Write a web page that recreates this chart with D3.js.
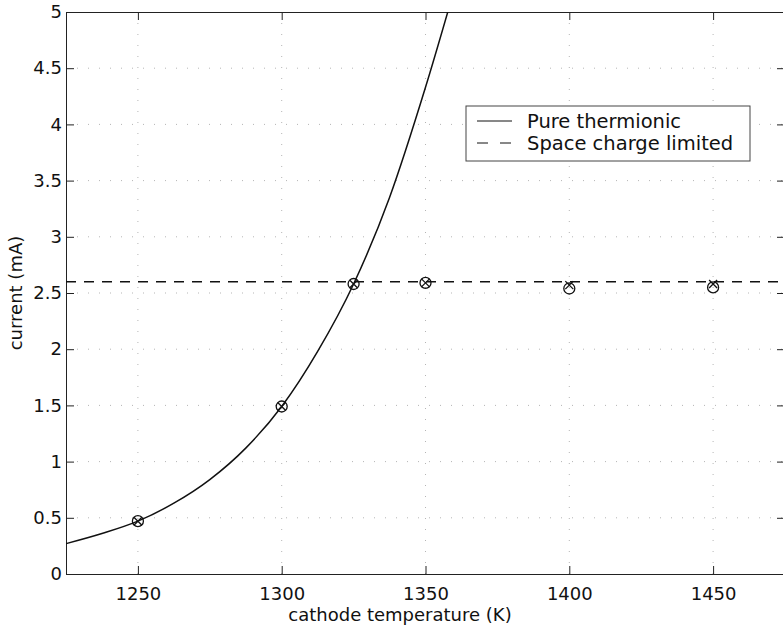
<!DOCTYPE html>
<html>
  <head>
  <title>Cathode current</title>
  </head>
  <body>
    <style>
        body, html {
          margin: 0;
          padding: 0;
          background: #fff;
        }
        text {
          font-family: "DejaVu Sans", sans-serif;
          fill: #111;
        }
      </style>

  <svg id="svg" width="783" height="630"></svg>

  <script src="https://d3js.org/d3.v7.min.js"></script>
  <script>
    // curve (pure thermionic emission)
    const curveTemps = [1225, 1237.5, 1250, 1262.5, 1275, 1287.5, 1300, 1312.5, 1325, 1337.5, 1350, 1360]
    const curveCurrents = [0.27, 0.36, 0.47, 0.63, 0.84, 1.12, 1.49, 1.98, 2.58, 3.35, 4.33, 5.2]

    // measured points, two marker sets ('o' and 'x')
    const measTemps = [1250, 1300, 1325, 1350, 1400, 1450]
    const circleCurrents = [0.47, 1.49, 2.58, 2.59, 2.54, 2.55]
    const crossCurrents = [0.47, 1.49, 2.58, 2.59, 2.57, 2.58]

    const spaceChargeLimit = 2.6

    const xTicks = [1250, 1300, 1350, 1400, 1450]
    const yTicks = [0, 0.5, 1, 1.5, 2, 2.5, 3, 3.5, 4, 4.5, 5]
    const legendLabels = ['Pure thermionic', 'Space charge limited']

    const plotLeft = 66
    const plotRight = 785   // the right axis sits just past the picture edge
    const plotTop = 12
    const plotBottom = 574

    const xscale = d3.scaleLinear()
        .domain([1225, 1475])
        .range([plotLeft, plotRight])
    const yscale = d3.scaleLinear()
        .domain([0, 5])
        .range([plotBottom, plotTop])

    const svg = d3.select('#svg')

    svg.append('defs')
        .append('clipPath')
        .attr('id', 'plot-clip')
        .append('rect')
        .attr('x', plotLeft)
        .attr('y', plotTop)
        .attr('width', plotRight - plotLeft)
        .attr('height', plotBottom - plotTop)

    // dotted grid (very faint on the scan)
    const grid = svg.append('g')
        .attr('stroke', '#b5b5b5')
        .attr('stroke-width', 1)
        .attr('stroke-dasharray', '1,10')
    grid.selectAll('line.gx')
        .data(xTicks)
        .join('line')
        .attr('class', 'gx')
        .attr('x1', d => xscale(d))
        .attr('x2', d => xscale(d))
        .attr('y1', plotTop)
        .attr('y2', plotBottom)
    grid.selectAll('line.gy')
        .data(yTicks.slice(1, -1))
        .join('line')
        .attr('class', 'gy')
        .attr('x1', plotLeft)
        .attr('x2', plotRight)
        .attr('y1', d => yscale(d))
        .attr('y2', d => yscale(d))

    // axes, ticks pointing inward like matlab
    const bottomAxis = d3.axisBottom(xscale)
        .tickValues(xTicks)
        .tickSizeInner(-8)
        .tickSizeOuter(0)
        .tickPadding(13)
        .tickFormat(d3.format('d'))
    const leftAxis = d3.axisLeft(yscale)
        .tickValues(yTicks)
        .tickSizeInner(-8)
        .tickSizeOuter(0)
        .tickPadding(4)
        .tickFormat(d => String(d))
    const topAxis = d3.axisTop(xscale)
        .tickValues(xTicks)
        .tickSizeInner(-8)
        .tickSizeOuter(0)
        .tickFormat('')
    const rightAxis = d3.axisRight(yscale)
        .tickValues(yTicks)
        .tickSizeInner(-8)
        .tickSizeOuter(0)
        .tickFormat('')

    const gx = svg.append('g')
        .attr('transform', `translate(0, ${plotBottom})`)
        .call(bottomAxis)
    const gy = svg.append('g')
        .attr('transform', `translate(${plotLeft}, 0)`)
        .call(leftAxis)
    svg.append('g')
        .attr('transform', `translate(0, ${plotTop})`)
        .call(topAxis)
    svg.append('g')
        .attr('transform', `translate(${plotRight}, 0)`)
        .call(rightAxis)

    svg.selectAll('.domain, .tick line')
        .attr('stroke', '#222')
        .attr('stroke-width', 1)
    gx.selectAll('text')
        .attr('font-size', 18)
        .attr('font-family', '"DejaVu Sans", sans-serif')
        .attr('fill', '#111')
    gy.selectAll('text')
        .attr('font-size', 18)
        .attr('font-family', '"DejaVu Sans", sans-serif')
        .attr('fill', '#111')

    // axis labels
    svg.append('text')
        .attr('x', 400)
        .attr('y', 621)
        .attr('text-anchor', 'middle')
        .attr('font-size', 18)
        .text('cathode temperature (K)')
    svg.append('text')
        .attr('transform', `translate(22, ${yscale(2.5)}) rotate(-90)`)
        .attr('text-anchor', 'middle')
        .attr('font-size', 18)
        .text('current (mA)')

    const plot = svg.append('g')
        .attr('clip-path', 'url(#plot-clip)')

    // pure thermionic curve
    const linegen = d3.line()
        .x(d => xscale(d[0]))
        .y(d => yscale(d[1]))
        .curve(d3.curveMonotoneX)
    plot.append('path')
        .attr('d', linegen(d3.zip(curveTemps, curveCurrents)))
        .attr('stroke', '#111')
        .attr('stroke-width', 1.5)
        .attr('fill', 'none')

    // space charge limit
    plot.append('line')
        .attr('x1', plotLeft)
        .attr('x2', plotRight)
        .attr('y1', yscale(spaceChargeLimit))
        .attr('y2', yscale(spaceChargeLimit))
        .attr('stroke', '#111')
        .attr('stroke-width', 1.5)
        .attr('stroke-dasharray', '10,8')

    // markers
    plot.selectAll('circle.meas')
        .data(d3.zip(measTemps, circleCurrents))
        .join('circle')
        .attr('class', 'meas')
        .attr('cx', d => xscale(d[0]))
        .attr('cy', d => yscale(d[1]))
        .attr('r', 5.5)
        .attr('fill', 'none')
        .attr('stroke', '#111')
        .attr('stroke-width', 1.3)
    const s = 4
    plot.selectAll('path.cross')
        .data(d3.zip(measTemps, crossCurrents))
        .join('path')
        .attr('class', 'cross')
        .attr('d', d => {
            const cx = xscale(d[0]), cy = yscale(d[1])
            return `M${cx - s},${cy - s}L${cx + s},${cy + s}M${cx - s},${cy + s}L${cx + s},${cy - s}`
        })
        .attr('stroke', '#111')
        .attr('stroke-width', 1.3)
        .attr('fill', 'none')

    // legend
    const legend = svg.append('g')
    legend.append('rect')
        .attr('x', 466)
        .attr('y', 106)
        .attr('width', 284)
        .attr('height', 55)
        .attr('fill', '#fff')
        .attr('stroke', '#444')
        .attr('stroke-width', 1)
    legendLabels.forEach((label, i) => {
        const y = 121 + i * 22
        legend.append('line')
            .attr('x1', 477)
            .attr('x2', 512)
            .attr('y1', y)
            .attr('y2', y)
            .attr('stroke', '#111')
            .attr('stroke-width', 1)
            .attr('stroke-dasharray', i === 0 ? null : '11,12')
        legend.append('text')
            .attr('x', 527)
            .attr('y', y + 7)
            .attr('font-size', 19.5)
            .text(label)
    })
  </script>
  </body>
</html>
